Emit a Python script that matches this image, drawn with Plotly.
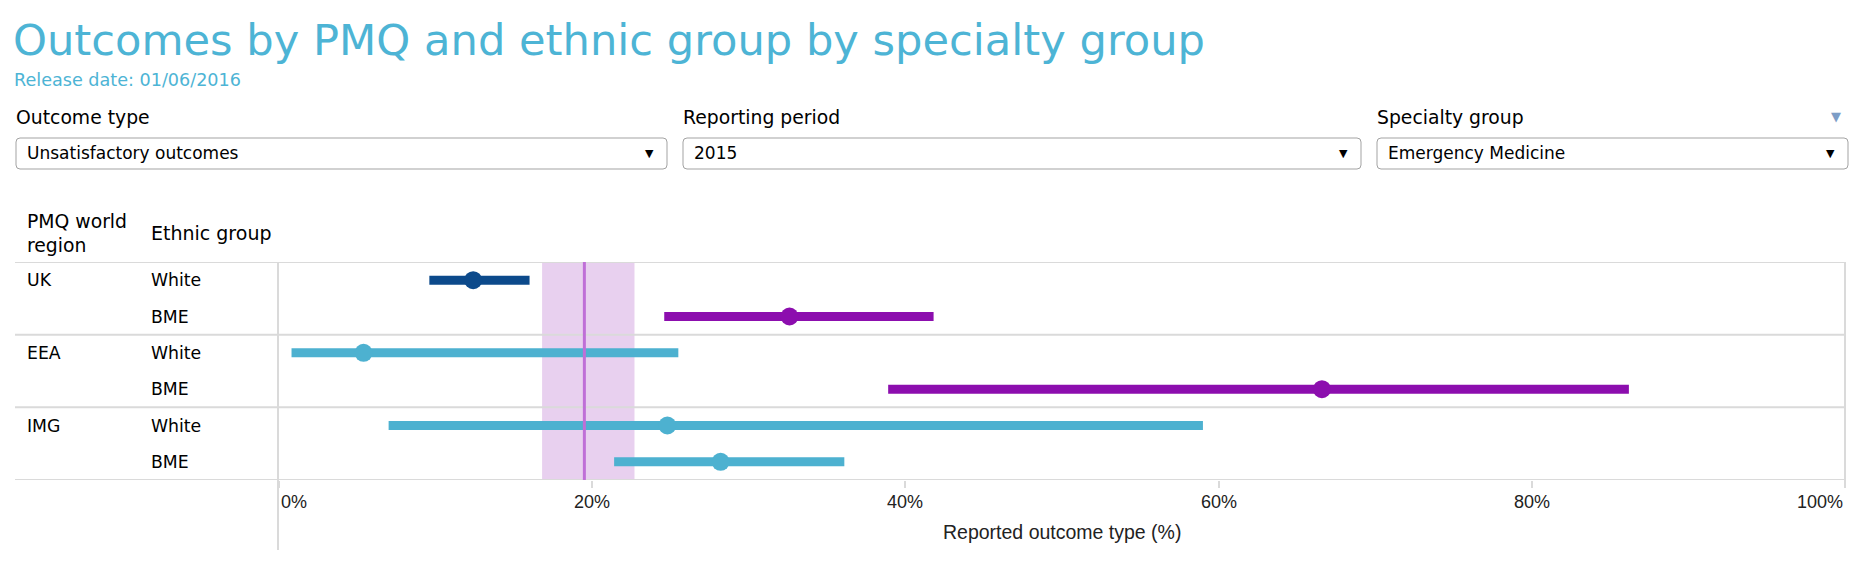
import plotly.graph_objects as go

# ---------------- data ----------------
regions = ["UK", "UK", "EEA", "EEA", "IMG", "IMG"]
ethnic_groups = ["White", "BME", "White", "BME", "White", "BME"]
estimate = [12.4, 32.6, 5.4, 66.6, 24.8, 28.2]
lower_ci = [9.6, 24.6, 0.8, 38.9, 7.0, 21.4]
upper_ci = [16.0, 41.8, 25.5, 86.2, 59.0, 36.1]
significance = ["lower", "higher", "none", "higher", "none", "none"]
benchmark = 19.5
benchmark_low = 16.8
benchmark_high = 22.7
tick_values = [0, 20, 40, 60, 80, 100]
tick_labels = ["0%", "20%", "40%", "60%", "80%", "100%"]
title_text = "Outcomes by PMQ and ethnic group by specialty group"
release_text = "Release date: 01/06/2016"
filter_labels = ["Outcome type", "Reporting period", "Specialty group"]
filter_values = ["Unsatisfactory outcomes", "2015", "Emergency Medicine"]
header_region = "PMQ world<br>region"
header_ethnic = "Ethnic group"
axis_title = "Reported outcome type (%)"

# ---------------- styles / layout ----------------
W, H = 1870, 572
L, R, T, B = 279, 1845, 262, 480
PW, PH = R - L, B - T
color_map = {"lower": "#0c4a8b", "higher": "#8c0eae", "none": "#4db1d0"}
TXT = "DejaVu Sans"
SANS = "Liberation Sans"
GRID = "#dadada"


def X(px):
    return (px - L) / PW


def Y(py):
    return (B - py) / PH


n = len(estimate)
rows = list(range(n))

fig = go.Figure()

for i in rows:
    c = color_map[significance[i]]
    fig.add_trace(go.Scatter(
        x=[estimate[i]], y=[i], mode="markers",
        marker=dict(size=18, color=c),
        error_x=dict(type="data", symmetric=False,
                     array=[upper_ci[i] - estimate[i]],
                     arrayminus=[estimate[i] - lower_ci[i]],
                     color=c, thickness=9, width=0),
        showlegend=False, hoverinfo="skip",
    ))

shapes = []
# benchmark band
shapes.append(dict(type="rect", xref="x", yref="paper", x0=benchmark_low, x1=benchmark_high,
                   y0=0, y1=1, fillcolor="#e8d0ef", line=dict(width=0), layer="below"))
# horizontal group separators (extend into label area)
for yy in [-0.5, 1.5, 3.5, 5.5]:
    shapes.append(dict(type="line", xref="paper", yref="y", x0=X(15), x1=X(1846),
                       y0=yy, y1=yy, line=dict(color=GRID, width=2), layer="below"))
# left and right vertical lines
shapes.append(dict(type="line", xref="paper", yref="paper", x0=X(278), x1=X(278),
                   y0=Y(550), y1=1, line=dict(color=GRID, width=2), layer="below"))
shapes.append(dict(type="line", xref="paper", yref="paper", x0=X(1845), x1=X(1845),
                   y0=Y(488), y1=1, line=dict(color=GRID, width=2), layer="below"))
# benchmark line
shapes.append(dict(type="line", xref="x", yref="paper", x0=benchmark, x1=benchmark,
                   y0=0, y1=1, line=dict(color="#bf6fd7", width=3), layer="above"))


def rrect(x0, y0, x1, y1, r=4):
    p = (f"M {X(x0 + r)},{Y(y0)} L {X(x1 - r)},{Y(y0)} Q {X(x1)},{Y(y0)} {X(x1)},{Y(y0 + r)} "
         f"L {X(x1)},{Y(y1 - r)} Q {X(x1)},{Y(y1)} {X(x1 - r)},{Y(y1)} "
         f"L {X(x0 + r)},{Y(y1)} Q {X(x0)},{Y(y1)} {X(x0)},{Y(y1 - r)} "
         f"L {X(x0)},{Y(y0 + r)} Q {X(x0)},{Y(y0)} {X(x0 + r)},{Y(y0)} Z")
    return dict(type="path", xref="paper", yref="paper", path=p,
                fillcolor="white", line=dict(color="#a3a3a3", width=1), layer="below")


box_px = [(16, 667), (683, 1361), (1377, 1848)]
for (bx0, bx1) in box_px:
    shapes.append(rrect(bx0, 138, bx1, 169))

ann = []


def text(px, py, s, size, color="#000000", family=TXT, xanchor="left"):
    ann.append(dict(xref="paper", yref="paper", x=X(px), y=Y(py), text=s, showarrow=False,
                    xanchor=xanchor, yanchor="middle", align="left",
                    font=dict(family=family, size=size, color=color)))


text(11, 40, title_text, 43.2, color="#4db4d5")
text(12, 80, release_text, 17.6, color="#4db4d5")
for (bx0, bx1), lab, val in zip(box_px, filter_labels, filter_values):
    text(bx0 - 2, 117, lab, 18.8)
    text(bx0 + 9, 153, val, 17)
    text(bx1 - 11, 153, "▼", 11, xanchor="right")
text(1843, 116, "▼", 13, color="#7d9dc6", xanchor="right")

text(25, 233, header_region, 18.8)
text(149, 233, header_ethnic, 19)

prev = None
for i in rows:
    if regions[i] != prev:
        ann.append(dict(xref="paper", yref="y", x=X(25), y=i, text=regions[i], showarrow=False,
                        xanchor="left", yanchor="middle", font=dict(family=TXT, size=17.3, color="#000")))
        prev = regions[i]
    ann.append(dict(xref="paper", yref="y", x=X(149), y=i, text=ethnic_groups[i], showarrow=False,
                    xanchor="left", yanchor="middle", font=dict(family=TXT, size=17.3, color="#000")))

for k, (tv, tl) in enumerate(zip(tick_values, tick_labels)):
    xa = "left" if k == 0 else ("right" if k == len(tick_values) - 1 else "center")
    ann.append(dict(xref="x", yref="paper", x=tv, y=Y(502), text=tl, showarrow=False,
                    xanchor=xa, yanchor="middle", font=dict(family=SANS, size=18, color="#222")))

ann.append(dict(xref="paper", yref="paper", x=0.5, y=Y(532), text=axis_title, showarrow=False,
                xanchor="center", yanchor="middle", font=dict(family=SANS, size=19.5, color="#222")))

fig.update_layout(
    width=W, height=H, autosize=False,
    margin=dict(l=L, r=W - R, t=T, b=H - B, pad=0),
    paper_bgcolor="white", plot_bgcolor="white",
    xaxis=dict(range=[0, 100], tickvals=tick_values, showticklabels=False, ticks="outside",
               ticklen=7, tickwidth=1.5, tickcolor=GRID, showgrid=False, zeroline=False,
               showline=False, fixedrange=True),
    yaxis=dict(range=[n - 0.5, -0.5], showticklabels=False, showgrid=False, zeroline=False,
               showline=False, fixedrange=True),
    shapes=shapes, annotations=ann,
)

fig.write_html("out.html", config={"displayModeBar": False},
               post_script="document.body.style.margin='0';document.body.style.overflow='hidden';")
